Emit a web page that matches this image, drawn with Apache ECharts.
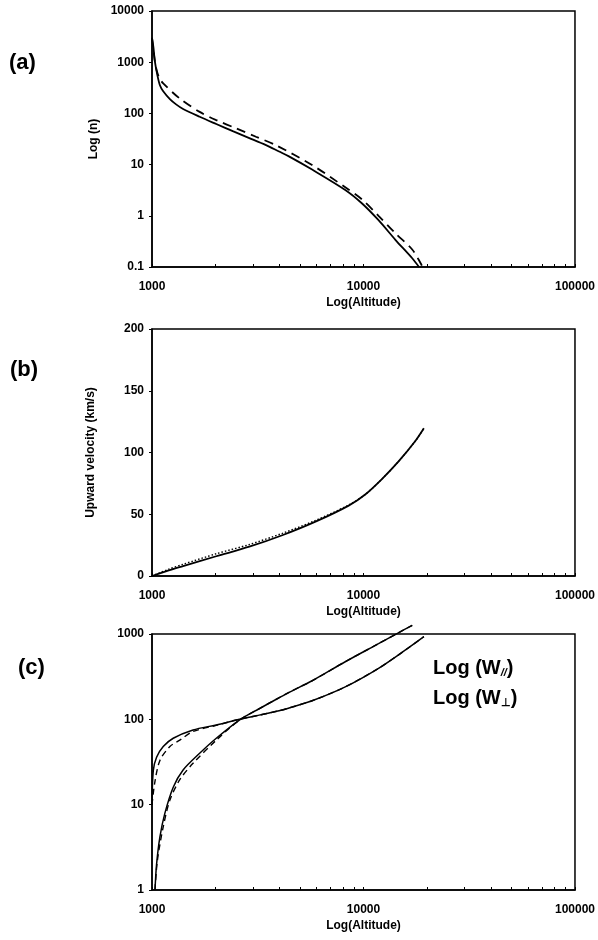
<!DOCTYPE html>
<html>
<head>
<meta charset="utf-8">
<script src="https://cdn.jsdelivr.net/npm/echarts@6/dist/echarts.min.js"></script>
<style>html,body{margin:0;padding:0;background:#fff}#c{width:598px;height:940px}</style>
</head>
<body>
<div id="c"></div>
<script>
// ---------- data ----------
// Panel (a): density vs altitude
const altA_solid = [1000, 1015, 1033, 1060, 1090, 1130, 1215, 1300, 1403, 1680, 2013, 2410, 2885, 3460, 3990, 4440, 5715, 8200, 9820, 11750, 14150, 17000, 18300];
const nA_solid   = [3000, 2000, 1000, 560, 355, 270, 190, 150, 122, 86, 62, 45, 33, 24, 18, 14.5, 8, 3.2, 1.76, 0.83, 0.34, 0.148, 0.1];
const altA_dash  = [1000, 1033, 1060, 1090, 1130, 1353, 1680, 2013, 2500, 3100, 3850, 5715, 8200, 9820, 11780, 14200, 17000, 18600, 19000];
const nA_dash    = [3000, 1000, 620, 470, 385, 195, 107, 74, 51, 35, 24, 9.8, 3.6, 2.1, 1.0, 0.45, 0.22, 0.12, 0.1];

// Panel (b): upward velocity vs altitude
const altB_solid = [1000, 1200, 1403, 2013, 2885, 4130, 5930, 8510, 10190, 12220, 14690, 17620, 19300];
const vB_solid   = [0, 4.5, 8, 16, 23.7, 33, 44, 57, 66, 78.5, 93, 109.5, 119.6];
const altB_dot   = [1000, 1200, 1403, 2013, 2885, 4130, 5930, 8510, 10190, 12220, 14690, 17620, 19300];
const vB_dot     = [0, 5.5, 9.5, 18, 25.5, 34.5, 45, 57.5, 66, 78.5, 93, 109.5, 119.6];

// Panel (c): temperatures W
const altC_A_solid = [1000, 1014, 1051, 1130, 1260, 1563, 2013, 2590, 3210, 3990, 4450, 5715, 8200, 11780, 15800, 19300];
const wC_A_solid   = [10, 25, 36, 48, 60, 75, 86, 100, 112, 126, 136, 165, 240, 396, 650, 930];
const altC_A_dash  = [1000, 1030, 1090, 1215, 1353, 1563, 2013, 2590, 3210, 3990, 4450, 5715, 8200, 11780, 15800, 19300];
const wC_A_dash    = [10, 18, 33, 48, 57, 72, 85, 100, 112, 126, 136, 165, 240, 396, 650, 930];
const altC_B_solid = [1033, 1051, 1090, 1150, 1260, 1403, 1680, 2013, 2590, 3210, 3990, 4450, 5715, 8200, 11780, 14690, 17000];
const wC_B_solid   = [1, 2, 4.2, 7.9, 16, 25.5, 40, 60, 98, 133, 179, 207, 283, 473, 771, 1040, 1265];
const altC_B_dash  = [1033, 1060, 1130, 1215, 1353, 1563, 2013, 2590, 3210, 3990, 4450, 5715, 8200, 11780, 14690, 17000];
const wC_B_dash    = [1, 2.2, 5.5, 11.3, 19.6, 30.5, 57, 98, 133, 179, 207, 283, 473, 771, 1040, 1265];

// tick values / labels
const xLabelVals = [1000, 10000, 100000];
const xTickVals  = [1000,2000,3000,4000,5000,6000,7000,8000,9000,10000,20000,30000,40000,50000,60000,70000,80000,90000,100000];
const yA_labels  = [0.1, 1, 10, 100, 1000, 10000];
const yB_labels  = [0, 50, 100, 150, 200];
const yC_labels  = [1, 10, 100, 1000];

const panelLabels = ['(a)', '(b)', '(c)'];
const xName = 'Log(Altitude)';
const yNameA = 'Log (n)';
const yNameB = 'Upward velocity (km/s)';

// ---------- chart ----------
const F = 'Liberation Sans, Arial, sans-serif';
const pairs = (xs, ys) => xs.map((x, i) => [x, ys[i]]);
const fmt = v => String(+(+v).toPrecision(6));

const grids = [
  {left: 152, top: 11, width: 423, height: 256},
  {left: 152, top: 329, width: 423, height: 247},
  {left: 152, top: 634, width: 427, height: 256}
].map(g => Object.assign({show: true, borderColor: '#000', borderWidth: 1.5, backgroundColor: 'transparent'}, g));

function xAx(i) {
  return {
    type: 'log', logBase: 10, gridIndex: i, min: 1000, max: 100000,
    name: xName, nameLocation: 'middle', nameGap: 30,
    nameTextStyle: {fontFamily: F, fontWeight: 'bold', fontSize: 12, color: '#000'},
    axisLine: {lineStyle: {color: '#000', width: 1.5}},
    axisTick: {show: true, inside: true, length: 3, customValues: xTickVals, lineStyle: {color: '#000', width: 1}},
    axisLabel: {customValues: xLabelVals, formatter: fmt, margin: 14, fontFamily: F, fontWeight: 'bold', fontSize: 12, color: '#000'},
    splitLine: {show: false}
  };
}
const yCommon = {
  axisLine: {show: true, lineStyle: {color: '#000', width: 1.5}},
  axisTick: {show: true, length: 3, lineStyle: {color: '#000'}},
  splitLine: {show: false},
  nameLocation: 'middle', nameGap: 50,
  nameTextStyle: {fontFamily: F, fontWeight: 'bold', fontSize: 12, color: '#000'}
};
function yLab(vals) {
  return {customValues: vals, formatter: fmt, margin: 8, fontFamily: F, fontWeight: 'bold', fontSize: 12, color: '#000'};
}

const solid = {color: '#000', width: 1.8, type: 'solid'};
function line(xi, data, style, extra) {
  return Object.assign({
    type: 'line', xAxisIndex: xi, yAxisIndex: xi, data: data, showSymbol: false, symbol: 'none',
    smooth: 0.3, lineStyle: style, animation: false, silent: true
  }, extra || {});
}

const option = {
  animation: false,
  grid: grids,
  xAxis: [xAx(0), xAx(1), xAx(2)],
  yAxis: [
    Object.assign({}, yCommon, {type: 'log', logBase: 10, gridIndex: 0, min: 0.1, max: 10000, name: yNameA, nameGap: 52,
      axisTick: {show: true, length: 3, customValues: yA_labels, lineStyle: {color: '#000'}}, axisLabel: yLab(yA_labels)}),
    Object.assign({}, yCommon, {type: 'value', gridIndex: 1, min: 0, max: 200, interval: 50, name: yNameB, nameGap: 55,
      axisLabel: {formatter: fmt, margin: 8, fontFamily: F, fontWeight: 'bold', fontSize: 12, color: '#000'}}),
    Object.assign({}, yCommon, {type: 'log', logBase: 10, gridIndex: 2, min: 1, max: 1000,
      axisTick: {show: true, length: 3, customValues: yC_labels, lineStyle: {color: '#000'}}, axisLabel: yLab(yC_labels)})
  ],
  series: [
    line(0, pairs(altA_solid, nA_solid), solid),
    line(0, pairs(altA_dash, nA_dash), {color: '#000', width: 1.8, type: [9, 6]}),
    line(1, pairs(altB_dot, vB_dot), {color: '#000', width: 1.4, type: [1.5, 2]}),
    line(1, pairs(altB_solid, vB_solid), solid),
    line(2, pairs(altC_A_dash, wC_A_dash), {color: '#000', width: 1.4, type: [6, 4]}),
    line(2, pairs(altC_B_dash, wC_B_dash), {color: '#000', width: 1.4, type: [6, 4]}, {clip: false}),
    line(2, pairs(altC_A_solid, wC_A_solid), {color: '#000', width: 1.5}),
    line(2, pairs(altC_B_solid, wC_B_solid), {color: '#000', width: 1.5}, {clip: false})
  ],
  graphic: [
    {type: 'text', left: 9, top: 52, style: {text: panelLabels[0], font: 'bold 22px ' + F, fill: '#000'}},
    {type: 'text', left: 10, top: 359, style: {text: panelLabels[1], font: 'bold 22px ' + F, fill: '#000'}},
    {type: 'text', left: 18, top: 657, style: {text: panelLabels[2], font: 'bold 22px ' + F, fill: '#000'}},
    {type: 'text', left: 433, top: 658, style: {
      text: '{m|Log (W}{s|//}{m|)}',
      rich: {m: {fontFamily: F, fontWeight: 'bold', fontSize: 20, color: '#000', lineHeight: 26, verticalAlign: 'bottom'},
             s: {fontFamily: F, fontWeight: 'bold', fontStyle: 'italic', fontSize: 11, color: '#000', lineHeight: 18, verticalAlign: 'bottom'}}}},
    {type: 'text', left: 433, top: 688, style: {
      text: '{m|Log (W}{s|\u22a5}{m|)}',
      rich: {m: {fontFamily: F, fontWeight: 'bold', fontSize: 20, color: '#000', lineHeight: 26, verticalAlign: 'bottom'},
             s: {fontFamily: F, fontWeight: 'bold', fontSize: 11, color: '#000', lineHeight: 18, verticalAlign: 'bottom'}}}}
  ]
};
const chart = echarts.init(document.getElementById('c'), null, {renderer: 'canvas'});
chart.setOption(option);
</script>
</body>
</html>
